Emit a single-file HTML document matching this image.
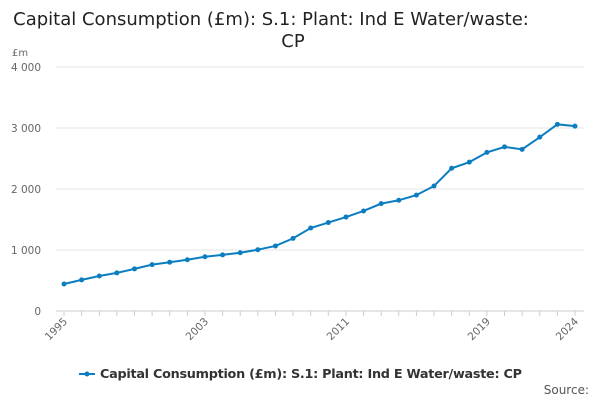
<!DOCTYPE html>
<html><head><meta charset="utf-8"><style>
body{margin:0;width:600px;height:400px;background:#fff;font-family:"DejaVu Sans","Liberation Sans",sans-serif;overflow:hidden}
</style></head><body>
<svg id="c" width="600" height="400" font-family="DejaVu Sans, Liberation Sans, sans-serif">
<text x="271" y="25" text-anchor="middle" font-size="18" fill="#222">Capital Consumption (£m): S.1: Plant: Ind E Water/waste:</text>
<text x="293" y="47" text-anchor="middle" font-size="18" fill="#222">CP</text>
<text x="12" y="56" font-size="10" fill="#666">£m</text>
<g id="grid"></g><g id="xax"></g><g id="series"></g>
<g>
<line x1="79" y1="374" x2="95" y2="374" stroke="#0b7dc1" stroke-width="2"/>
<circle cx="87" cy="374" r="2.5" fill="#0b7dc1"/>
<text x="100" y="378" font-size="12.8" font-weight="bold" fill="#333" textLength="422">Capital Consumption (£m): S.1: Plant: Ind E Water/waste: CP</text>
</g>
<text x="589" y="394" text-anchor="end" font-size="12" fill="#555">Source:</text>
</svg>
<script>
const years=[1995,1996,1997,1998,1999,2000,2001,2002,2003,2004,2005,2006,2007,2008,2009,2010,2011,2012,2013,2014,2015,2016,2017,2018,2019,2020,2021,2022,2023,2024];
const values=[443,510,574,625,690,760,800,840,890,920,955,1005,1066,1190,1360,1450,1540,1640,1760,1815,1900,2050,2340,2440,2600,2690,2650,2850,3060,3030];
const yTicks=[0,1000,2000,3000,4000];
const yTickLabels=["0","1 000","2 000","3 000","4 000"];
const xTickYears=[1995,2003,2011,2019,2024];
const ns="http://www.w3.org/2000/svg";
const X=y=>64+(y-1995)*(575-64)/29;
const Y=v=>311-v*(311-67)/4000;
function mk(t,a,p){const e=document.createElementNS(ns,t);for(const k in a)e.setAttribute(k,a[k]);p.appendChild(e);return e;}
const g=document.getElementById('grid');
yTicks.forEach((v,i)=>{
 const l=mk('line',{x1:56,x2:584,y1:Y(v),y2:Y(v),stroke:v===0?'#ccc':'#e6e6e6'},g);
 
 
 const t=mk('text',{x:41,y:Y(v)+4,'text-anchor':'end','font-size':10.5,fill:'#666'},g);
 t.textContent=yTickLabels[i];
 
 
});
const xa=document.getElementById('xax');
years.forEach(y=>{const l=mk('line',{x1:X(y),x2:X(y),y1:311,y2:316,stroke:'#ccc'},xa);
 
 });
xTickYears.forEach(y=>{const t=mk('text',{x:X(y)+4,y:322,'text-anchor':'end','font-size':10.5,fill:'#666',transform:`rotate(-45 ${X(y)+4} 322)`},xa);
 t.textContent=y;
 
 });
const s=document.getElementById('series');
const p=mk('polyline',{points:years.map((y,i)=>X(y)+','+Y(values[i])).join(' '),fill:'none',stroke:'#0b7dc1','stroke-width':2},s);


years.forEach((y,i)=>{const c=mk('circle',{cx:X(y),cy:Y(values[i]),r:2.5,fill:'#0b7dc1'},s);
 
 });
</script>
</body></html>
